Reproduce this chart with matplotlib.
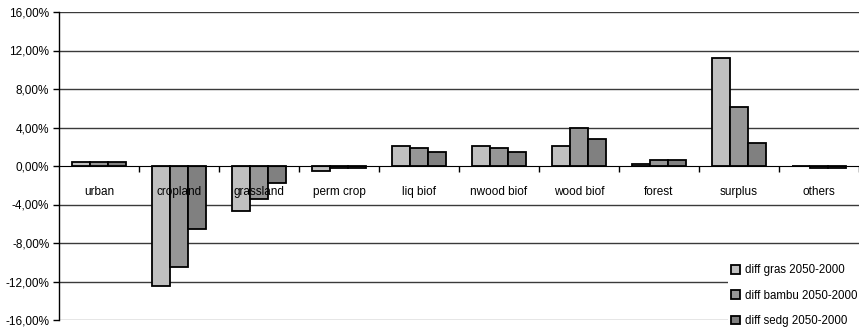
import numpy as np
import matplotlib.pyplot as plt

plt.rcParams['font.family'] = ['Liberation Sans', 'DejaVu Sans']

categories = ['urban', 'cropland', 'grassland', 'perm crop', 'liq biof',
              'nwood biof', 'wood biof', 'forest', 'surplus', 'others']
diff_gras = [0.4, -12.5, -4.7, -0.5, 2.1, 2.1, 2.1, 0.2, 11.2, 0.0]
diff_bambu = [0.4, -10.5, -3.4, -0.2, 1.9, 1.9, 3.9, 0.6, 6.1, -0.2]
diff_sedg = [0.4, -6.5, -1.8, -0.2, 1.5, 1.5, 2.8, 0.6, 2.4, -0.2]
series_names = ['diff gras 2050-2000', 'diff bambu 2050-2000', 'diff sedg 2050-2000']
colors = ['#c0c0c0', '#969696', '#808080']

fig = plt.figure(figsize=(8.59, 3.3), dpi=100)
ax = fig.add_axes([59 / 859, 10 / 330, 800 / 859, 308 / 330])

x = np.arange(len(categories))
w = 1 / 4.5
for i, vals in enumerate([diff_gras, diff_bambu, diff_sedg]):
    ax.bar(x + (i - 1) * w, vals, width=w, color=colors[i],
           edgecolor='black', linewidth=1.3, zorder=3, label=series_names[i])

ax.set_xlim(-0.5, 9.4)
ax.set_ylim(-16, 16)

# horizontal gridlines
yt = np.arange(-16, 17, 4)
for y in yt:
    if y == 0:
        continue
    c = '#808080' if y == -16 else '#3a3a3a'
    ax.axhline(y, color=c, lw=1, zorder=1)

ax.set_yticks(yt)
ax.set_yticklabels([f'{v:.2f}%'.replace('.', ',') for v in yt], fontsize=8.5)
ax.tick_params(axis='y', direction='out', length=4, width=1, pad=3)

# category axis sits on the zero line, ticks between the groups
ax.spines['bottom'].set_position(('data', 0))
ax.spines['bottom'].set_zorder(4)
ax.set_xticks(np.arange(0.5, len(categories), 1))
ax.set_xticklabels([])
ax.tick_params(axis='x', direction='out', length=4, width=1)
for s in ['top', 'right']:
    ax.spines[s].set_visible(False)
ax.spines['left'].set_linewidth(1)

for xi, name in zip(x, categories):
    ax.text(xi, -2.65, name, ha='center', va='center', fontsize=8.5, zorder=5)

leg = ax.legend(loc='upper left', bbox_to_anchor=(728 / 859, 1 - 261 / 330),
                bbox_transform=fig.transFigure, fontsize=8.3, frameon=True,
                facecolor='white', edgecolor='none', framealpha=1,
                handlelength=0.75, handleheight=0.75, handletextpad=0.4,
                labelspacing=1.15, borderpad=0.3, borderaxespad=0)
leg.set_zorder(6)
for h in leg.legend_handles:
    h.set_linewidth(1.3)

fig.savefig('out.png', dpi=100)
